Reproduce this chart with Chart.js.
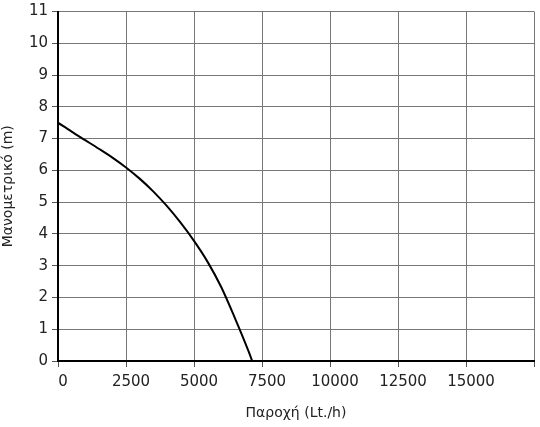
<!DOCTYPE html>
<html>
<head>
<meta charset="utf-8">
<script src="https://cdn.jsdelivr.net/npm/chart.js@4/dist/chart.umd.min.js"></script>
<style>
  html, body { margin: 0; padding: 0; background: #fff; }
  #wrap { width: 540px; height: 427px; }
</style>
</head>
<body>
<div id="wrap"><canvas id="pumpChart"></canvas></div>
<script>
// Καμπύλη αντλίας: παροχή (Lt/h) -> μανομετρικό (m)
const flowValues = [0, 500, 1000, 1500, 2000, 2500, 3000, 3500, 4000, 4500, 5000, 5500, 6000, 6500, 7000, 7140];
const headValues = [7.5, 7.22, 6.95, 6.68, 6.4, 6.09, 5.74, 5.34, 4.88, 4.36, 3.78, 3.12, 2.33, 1.36, 0.32, 0];

const xTitle = "Παροχή (Lt./h)";
const yTitle = "Μανομετρικό (m)";

const points = flowValues.map((q, i) => ({ x: q, y: headValues[i] }));

const font = { family: "DejaVu Sans", size: 15 };

new Chart(document.getElementById("pumpChart"), {
  type: "scatter",
  data: {
    datasets: [{
      data: points,
      showLine: true,
      borderColor: "#000",
      borderWidth: 2,
      pointRadius: 0,
      cubicInterpolationMode: "monotone"
    }]
  },
  options: {
    responsive: true,
    maintainAspectRatio: false,
    animation: false,
    layout: { padding: { top: 0, right: 1, left: 0, bottom: 0 } },
    plugins: {
      legend: { display: false },
      tooltip: { enabled: false }
    },
    scales: {
      x: {
        type: "linear",
        min: 0,
        max: 17500,
        border: { color: "#000", width: 2 },
        grid: { color: "#777", lineWidth: 1, tickLength: 6, tickColor: "#555" },
        ticks: {
          stepSize: 2500,
          maxRotation: 0,
          padding: 6,
          labelOffset: 5,
          color: "#222",
          font,
          callback: v => (v === 17500 ? "" : v)
        },
        title: {
          display: true,
          text: xTitle,
          color: "#222",
          font: { family: "DejaVu Sans", size: 14 },
          padding: { top: 0, bottom: 5 }
        },
        afterFit: axis => { axis.height = 66; }
      },
      y: {
        min: 0,
        max: 11,
        border: { color: "#000", width: 2 },
        grid: { color: "#777", lineWidth: 1, tickLength: 6, tickColor: "#555" },
        ticks: { stepSize: 1, padding: 4, color: "#222", font: { family: "DejaVu Sans", size: 15, lineHeight: 1 } },
        title: {
          display: true,
          text: yTitle,
          color: "#222",
          font: { family: "DejaVu Sans", size: 14 },
          padding: { top: 0, bottom: 4 }
        },
        afterFit: axis => { axis.width = 58; }
      }
    }
  }
});
</script>
</body>
</html>
